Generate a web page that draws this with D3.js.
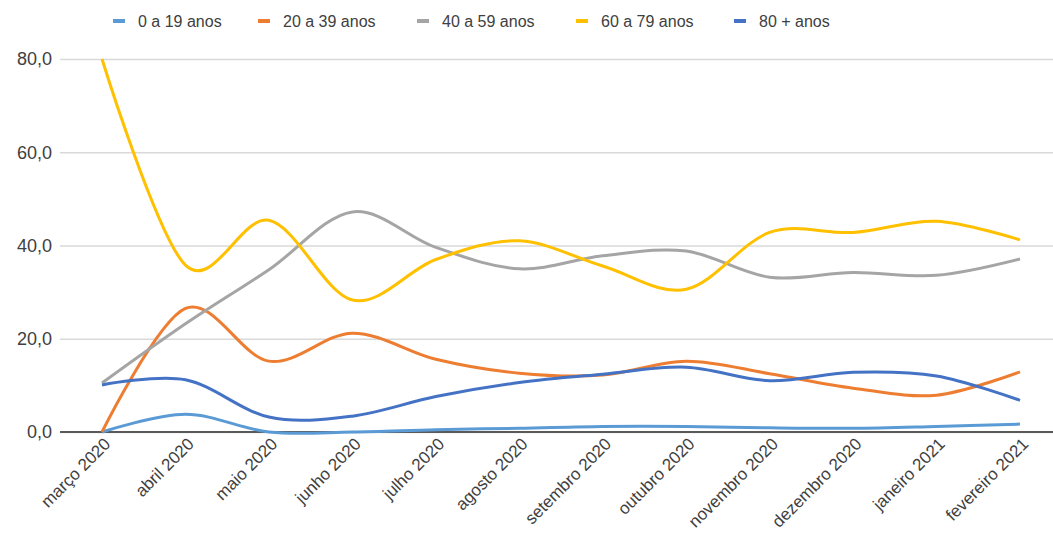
<!DOCTYPE html>
<html>
<head>
<meta charset="utf-8">
<script src="https://cdn.jsdelivr.net/npm/d3@7"></script>
<style>
  body { margin: 0; background: #fff; }
  svg { font-family: 'Liberation Sans', Arial, sans-serif; }
</style>
</head>
<body>
<svg width="1053" height="535"></svg>
<script>
// Data
const months = ['março 2020', 'abril 2020', 'maio 2020', 'junho 2020', 'julho 2020', 'agosto 2020',
  'setembro 2020', 'outubro 2020', 'novembro 2020', 'dezembro 2020', 'janeiro 2021', 'fevereiro 2021']
const ages0to19 = [0, 3.8, 0, 0, 0.5, 0.8, 1.2, 1.2, 0.9, 0.8, 1.2, 1.7]
const ages20to39 = [0, 26.5, 15.2, 21.2, 15.6, 12.6, 12.2, 15.2, 12.5, 9.4, 7.9, 12.9]
const ages40to59 = [10.5, 23.2, 34.8, 47.2, 39.6, 35.0, 37.8, 38.8, 33.2, 34.2, 33.6, 37.1]
const ages60to79 = [80, 35.8, 45.4, 28.3, 37.0, 41.0, 35.6, 30.6, 42.8, 42.8, 45.2, 41.2]
const ages80plus = [10.1, 11.2, 3.2, 3.4, 7.6, 10.6, 12.4, 13.9, 11.0, 12.8, 12.0, 6.8]
const yTicks = [0, 20, 40, 60, 80]

const series = [
  { name: '0 a 19 anos', values: ages0to19, color: '#5b9bd5' },
  { name: '20 a 39 anos', values: ages20to39, color: '#ed7d31' },
  { name: '40 a 59 anos', values: ages40to59, color: '#a5a5a5' },
  { name: '60 a 79 anos', values: ages60to79, color: '#ffc000' },
  { name: '80 + anos', values: ages80plus, color: '#4472c4' }
]

const svg = d3.select('svg')

const plotLeft = 60, plotRight = 1053
const xScale = d3.scalePoint().domain(months).range([102, 1020])
const yScale = d3.scaleLinear().domain([0, 80]).range([432, 59])

// Gridlines + y labels
const yAxis = d3.axisLeft(yScale)
  .tickValues(yTicks)
  .tickSize(-(plotRight - plotLeft))
  .tickPadding(8)
  .tickFormat((d) => d3.format('.1f')(d).replace('.', ','))

const yG = svg.append('g')
  .attr('transform', `translate(${plotLeft}, 0)`)
  .call(yAxis)
yG.select('.domain').remove()
yG.selectAll('.tick line').attr('stroke', '#d9d9d9').attr('stroke-width', 1.5)
yG.selectAll('.tick text').attr('fill', '#404040').style('font-size', '18px')

// X axis
const xAxis = d3.axisBottom(xScale).tickSize(0).tickPadding(0)
const xG = svg.append('g')
  .attr('transform', `translate(0, ${yScale(0)})`)
  .call(xAxis)
xG.select('.domain').remove()
xG.selectAll('.tick text')
  .attr('fill', '#404040')
  .style('font-size', '17px')
  .attr('text-anchor', 'end')
  .attr('dy', 0)
  .attr('transform', 'translate(9, 13) rotate(-45)')

svg.append('line')
  .attr('x1', plotLeft).attr('x2', plotRight)
  .attr('y1', yScale(0)).attr('y2', yScale(0))
  .attr('stroke', '#595959')
  .attr('stroke-width', 2)

// Lines
const line = d3.line()
  .x((d, i) => xScale(months[i]))
  .y((d) => yScale(d))
  .curve(d3.curveCardinal)

svg.selectAll('path.series')
  .data(series)
  .enter()
  .append('path')
  .attr('class', 'series')
  .attr('d', (d) => line(d.values))
  .attr('fill', 'none')
  .attr('stroke', (d) => d.color)
  .attr('stroke-width', 3)

// Legend
const legendX = [113, 258, 417, 576, 734]
const legend = svg.selectAll('g.legend')
  .data(series)
  .enter()
  .append('g')
  .attr('class', 'legend')
  .attr('transform', (d, i) => `translate(${legendX[i]}, 21)`)

legend.append('line')
  .attr('x1', 0).attr('x2', 12)
  .attr('stroke', (d) => d.color)
  .attr('stroke-width', 4)

legend.append('text')
  .attr('x', 25)
  .attr('dy', '0.35em')
  .attr('fill', '#404040')
  .style('font-size', '16px')
  .text((d) => d.name)
</script>
</body>
</html>
